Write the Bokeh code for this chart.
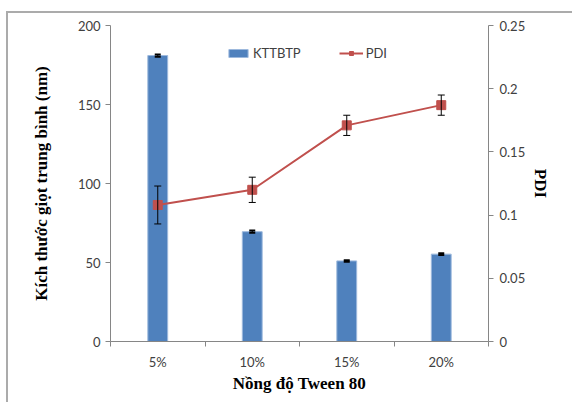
from bokeh.plotting import figure
from bokeh.models import (Range1d, LinearAxis, FixedTicker, Whisker, TeeHead,
                          ColumnDataSource, Legend, LegendItem)
from bokeh.embed import file_html
from bokeh.resources import INLINE

categories = ["5%", "10%", "15%", "20%"]
kttbtp = [181.0, 69.5, 51.0, 55.3]
kttbtp_err = [0.7, 0.7, 0.5, 0.5]
pdi = [0.108, 0.120, 0.171, 0.187]
pdi_err = [0.015, 0.010, 0.008, 0.008]
left_ticks = [0, 50, 100, 150, 200]
right_ticks = [0, 0.05, 0.1, 0.15, 0.2, 0.25]

xs = [i + 0.5 for i in range(len(categories))]

BLUE = "#4F81BD"
RED = "#C0504D"
AXIS = "#868686"
TXT = "#404040"
TICKFONT = "Lato"

p = figure(width=564, height=389, output_backend="svg", toolbar_location=None,
           x_range=Range1d(0, len(categories)), y_range=Range1d(0, 200),
           min_border_left=102, min_border_top=12, min_border_right=84, min_border_bottom=61,
           frame_width=378, frame_height=316)
p.styles = {"margin-left": "6px", "margin-top": "11px",
            "border-top": "2px solid #ababab", "border-left": "2px solid #ababab"}
p.background_fill_color = "white"
p.border_fill_color = "white"
p.outline_line_color = None
p.grid.grid_line_color = None
p.extra_y_ranges = {"pdi": Range1d(0, 0.25)}

src = ColumnDataSource(dict(x=xs, v=kttbtp, lo=[a - b for a, b in zip(kttbtp, kttbtp_err)],
                            hi=[a + b for a, b in zip(kttbtp, kttbtp_err)],
                            p=pdi, plo=[a - b for a, b in zip(pdi, pdi_err)],
                            phi=[a + b for a, b in zip(pdi, pdi_err)]))

bars = p.vbar(x="x", top="v", width=0.21, source=src, fill_color=BLUE,
              line_color="#9DB9DD", line_width=1)
p.add_layout(Whisker(source=src, base="x", lower="lo", upper="hi", dimension="height",
                     line_color="black", line_width=1, level="glyph",
                     upper_head=TeeHead(size=6, line_color="black", line_width=2),
                     lower_head=TeeHead(size=6, line_color="black", line_width=2)))

ln = p.line(x="x", y="p", source=src, y_range_name="pdi", line_color=RED, line_width=2)
p.add_layout(Whisker(source=src, base="x", lower="plo", upper="phi", dimension="height",
                     y_range_name="pdi", line_color="black", line_width=1, level="glyph",
                     upper_head=TeeHead(size=7, line_color="black", line_width=1),
                     lower_head=TeeHead(size=7, line_color="black", line_width=1)))
sq = p.scatter(x="x", y="p", source=src, y_range_name="pdi", marker="square", size=9,
               fill_color=RED, line_color=RED)

# x axis
xa = p.xaxis[0]
xa.ticker = FixedTicker(ticks=xs, minor_ticks=list(range(len(categories) + 1)))
xa.major_label_overrides = {x: c for x, c in zip(xs, categories)}
xa.major_tick_line_color = None
xa.major_tick_out = 0
xa.major_tick_in = 0
xa.minor_tick_out = 5
xa.minor_tick_in = 0
xa.minor_tick_line_color = AXIS
xa.axis_line_color = AXIS
xa.major_label_text_font = TICKFONT
xa.major_label_text_font_size = "13px"
xa.major_label_text_color = TXT
xa.major_label_standoff = 7
xa.axis_label = "Nồng độ Tween 80"
xa.axis_label_text_font = "Liberation Serif"
xa.axis_label_text_font_style = "bold"
xa.axis_label_text_font_size = "17px"
xa.axis_label_text_color = "black"
xa.axis_label_standoff = 1

ya = p.yaxis[0]
ya.ticker = FixedTicker(ticks=left_ticks, minor_ticks=[])
ya.axis_line_color = AXIS
ya.major_tick_line_color = AXIS
ya.major_tick_out = 5
ya.major_tick_in = 0
ya.major_label_text_font = TICKFONT
ya.major_label_text_font_size = "13px"
ya.major_label_text_color = TXT
ya.major_label_standoff = 5
ya.axis_label = "Kích thước giọt trung bình (nm)"
ya.axis_label_text_font = "Liberation Serif"
ya.axis_label_text_font_style = "bold"
ya.axis_label_text_font_size = "17px"
ya.axis_label_text_color = "black"
ya.axis_label_standoff = 24

ra = LinearAxis(y_range_name="pdi", ticker=FixedTicker(ticks=right_ticks, minor_ticks=[]))
ra.major_label_overrides = {0: "0", 0.05: "0.05", 0.1: "0.1", 0.15: "0.15", 0.2: "0.2", 0.25: "0.25"}
ra.axis_line_color = AXIS
ra.major_tick_line_color = AXIS
ra.major_tick_out = 5
ra.major_tick_in = 0
ra.major_label_text_font = TICKFONT
ra.major_label_text_font_size = "13px"
ra.major_label_text_color = TXT
ra.major_label_standoff = 6
ra.axis_label = "PDI"
ra.axis_label_text_font = "Liberation Serif"
ra.axis_label_text_font_style = "bold"
ra.axis_label_text_font_size = "17px"
ra.axis_label_text_color = "black"
ra.axis_label_standoff = 3
p.add_layout(ra, "right")

legend = Legend(items=[LegendItem(label="KTTBTP", renderers=[bars]),
                       LegendItem(label="PDI", renderers=[ln, sq])],
                orientation="horizontal", location=(116, 280),
                glyph_width=24, glyph_height=10, label_standoff=3, spacing=38,
                padding=0, margin=0, border_line_color=None, background_fill_alpha=0,
                label_text_font=TICKFONT, label_text_font_size="13px",
                label_text_color=TXT, label_height=12)
p.add_layout(legend, "center")

open("out.html", "w").write(file_html(p, INLINE))
